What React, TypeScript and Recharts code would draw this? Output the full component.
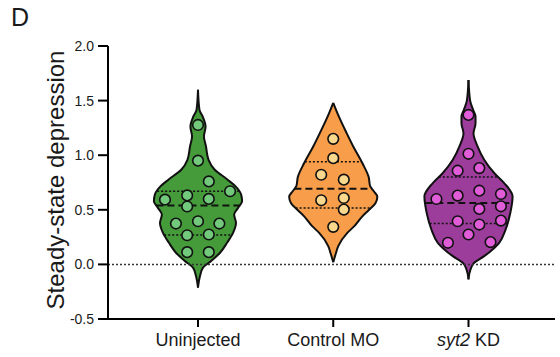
import React from 'react';
import { ComposedChart, Area, Scatter, XAxis, YAxis, ReferenceLine } from 'recharts';

// ---------- data ----------
const categories = ['Uninjected', 'Control MO', 'syt2 KD'];
const yTicks = [-0.5, 0, 0.5, 1.0, 1.5, 2.0];

// violin outlines: [value, half-width in category units]
const uninjectedShape: [number, number][] = [
  [-0.213, 0], [-0.107, 0.015], [-0.03, 0.037], [0.03, 0.096], [0.107, 0.163],
  [0.198, 0.215], [0.289, 0.259], [0.38, 0.281], [0.456, 0.267], [0.517, 0.296],
  [0.578, 0.326], [0.639, 0.319], [0.714, 0.278], [0.776, 0.219], [0.867, 0.124],
  [0.958, 0.078], [1.08, 0.059], [1.171, 0.044], [1.262, 0.056], [1.353, 0.035],
  [1.414, 0.011], [1.6, 0],
];
const controlShape: [number, number][] = [
  [0.02, 0], [0.1, 0.019], [0.167, 0.037], [0.289, 0.104], [0.35, 0.156],
  [0.44, 0.215], [0.5, 0.265], [0.56, 0.312], [0.62, 0.326], [0.67, 0.3],
  [0.72, 0.272], [0.8, 0.262], [0.928, 0.215], [1.08, 0.148], [1.2, 0.1],
  [1.353, 0.042], [1.48, 0],
];
const syt2Shape: [number, number][] = [
  [-0.137, 0], [-0.046, 0.015], [0.015, 0.042], [0.076, 0.116], [0.198, 0.227],
  [0.319, 0.274], [0.47, 0.309], [0.623, 0.326], [0.745, 0.264], [0.837, 0.19],
  [0.958, 0.116], [1.08, 0.067], [1.2, 0.037], [1.293, 0.052], [1.353, 0.052],
  [1.414, 0.035], [1.5, 0.012], [1.688, 0],
];

// individual points: values and horizontal jitter (category units)
const uninjectedValues = [1.277, 0.95, 0.76, 0.67, 0.593, 0.632, 0.6, 0.53, 0.374, 0.395, 0.374, 0.267, 0.274, 0.112, 0.112];
const uninjectedJitter = [0, 0, 0.08, 0.237, -0.244, -0.08, 0.08, -0.08, -0.163, 0, 0.158, -0.08, 0.08, -0.08, 0.08];

const controlValues = [1.15, 0.973, 0.821, 0.776, 0.587, 0.608, 0.502, 0.344];
const controlJitter = [0, 0, -0.089, 0.078, -0.089, 0.078, 0.078, 0];

const syt2Values = [1.369, 1.013, 0.858, 0.882, 0.599, 0.63, 0.675, 0.645, 0.508, 0.532, 0.395, 0.365, 0.401, 0.274, 0.198, 0.204];
const syt2Jitter = [0, 0, -0.08, 0.08, -0.237, -0.08, 0.08, 0.24, 0.08, 0.24, -0.08, 0.08, 0.24, 0, -0.152, 0.163];

// [Q1, median, Q3]
const uninjectedQuartiles = [0.27, 0.54, 0.67];
const controlQuartiles = [0.517, 0.693, 0.94];
const syt2Quartiles = [0.374, 0.563, 0.8];

// ---------- styling ----------
const violinFill = ['#459a3a', '#f89d49', '#9c3d9c'];
const pointFill = ['#72c97c', '#fad88e', '#e05cd8'];
const FONT = '"Liberation Sans", Arial, Helvetica, sans-serif';

const groups = [
  { shape: uninjectedShape, values: uninjectedValues, jitter: uninjectedJitter, q: uninjectedQuartiles },
  { shape: controlShape, values: controlValues, jitter: controlJitter, q: controlQuartiles },
  { shape: syt2Shape, values: syt2Values, jitter: syt2Jitter, q: syt2Quartiles },
];

const halfWidthAt = (shape: [number, number][], v: number) => {
  for (let i = 0; i < shape.length - 1; i++) {
    const [v0, w0] = shape[i];
    const [v1, w1] = shape[i + 1];
    if (v >= v0 && v <= v1) return w0 + ((w1 - w0) * (v - v0)) / (v1 - v0);
  }
  return 0;
};

const XTick = (props: any) => {
  const { x, y, payload } = props;
  const idx = Math.round(payload.value);
  return (
    <text x={x} y={y} dy={13} textAnchor="middle" fontSize={18} fontFamily={FONT} fill="#1a1a1a">
      {idx === 2 ? (
        <>
          <tspan fontStyle="italic">syt2</tspan>
          <tspan> KD</tspan>
        </>
      ) : (
        categories[idx]
      )}
    </text>
  );
};

const YLabel = () => (
  <g>
    <text x={11} y={26} fontSize={25} fontFamily={FONT} fill="#1a1a1a">D</text>
    <text
      transform="translate(63.5,180) rotate(-90)"
      x={0}
      y={0}
      textAnchor="middle"
      fontSize={24}
      fontFamily={FONT}
      fill="#1a1a1a"
    >
      Steady-state depression
    </text>
  </g>
);

export default function App() {
  return (
    <div style={{ position: 'absolute', left: 0, top: 0, background: '#fff' }}>
      <ComposedChart
        width={560}
        height={357}
        layout="vertical"
        margin={{ top: 46, right: 5, bottom: 8, left: 68 }}
      >
        <XAxis
          type="number"
          dataKey="x"
          height={30}
          domain={[-0.6654, 2.6396]}
          allowDataOverflow
          ticks={[0, 1, 2]}
          tick={<XTick />}
          tickSize={8}
          tickMargin={6}
          axisLine={{ stroke: '#000', strokeWidth: 2 }}
          tickLine={{ stroke: '#000', strokeWidth: 2 }}
        />
        <YAxis
          type="number"
          dataKey="v"
          reversed
          domain={[-0.5, 2]}
          allowDataOverflow
          ticks={yTicks}
          interval={0}
          width={40}
          tickSize={10}
          tickMargin={4}
          tickFormatter={(v: number) => v.toFixed(1)}
          tick={{ fontSize: 14, fontFamily: FONT, fill: '#1a1a1a' }}
          axisLine={{ stroke: '#000', strokeWidth: 2 }}
          tickLine={{ stroke: '#000', strokeWidth: 2 }}
          label={{ content: () => <YLabel /> }}
        />
        {groups.map((g, i) => (
          <Area
            key={`violin-${i}`}
            data={g.shape.map(([v, w]) => ({ v, range: [i - w, i + w] }))}
            dataKey="range"
            type="monotone"
            fill={violinFill[i]}
            fillOpacity={1}
            stroke="#111"
            strokeWidth={2}
            isAnimationActive={false}
            activeDot={false}
            dot={false}
          />
        ))}
        <ReferenceLine y={0} stroke="#333" strokeWidth={1.5} strokeDasharray="2 2" />
        {groups.map((g, i) =>
          g.q.map((qv, j) => {
            const w = halfWidthAt(g.shape, qv);
            return (
              <ReferenceLine
                key={`q-${i}-${j}`}
                segment={[
                  { x: i - w, y: qv },
                  { x: i + w, y: qv },
                ]}
                stroke="#111"
                strokeWidth={j === 1 ? 2 : 1.5}
                strokeDasharray={j === 1 ? '7 4' : '2 2'}
              />
            );
          })
        )}
        {groups.map((g, i) => (
          <Scatter
            key={`pts-${i}`}
            data={g.values.map((v, k) => ({ x: i + g.jitter[k], v }))}
            fill={pointFill[i]}
            isAnimationActive={false}
            shape={(p: any) => (
              <circle cx={p.cx} cy={p.cy} r={5.3} fill={pointFill[i]} stroke="#111" strokeWidth={1.6} />
            )}
          />
        ))}
      </ComposedChart>
    </div>
  );
}
